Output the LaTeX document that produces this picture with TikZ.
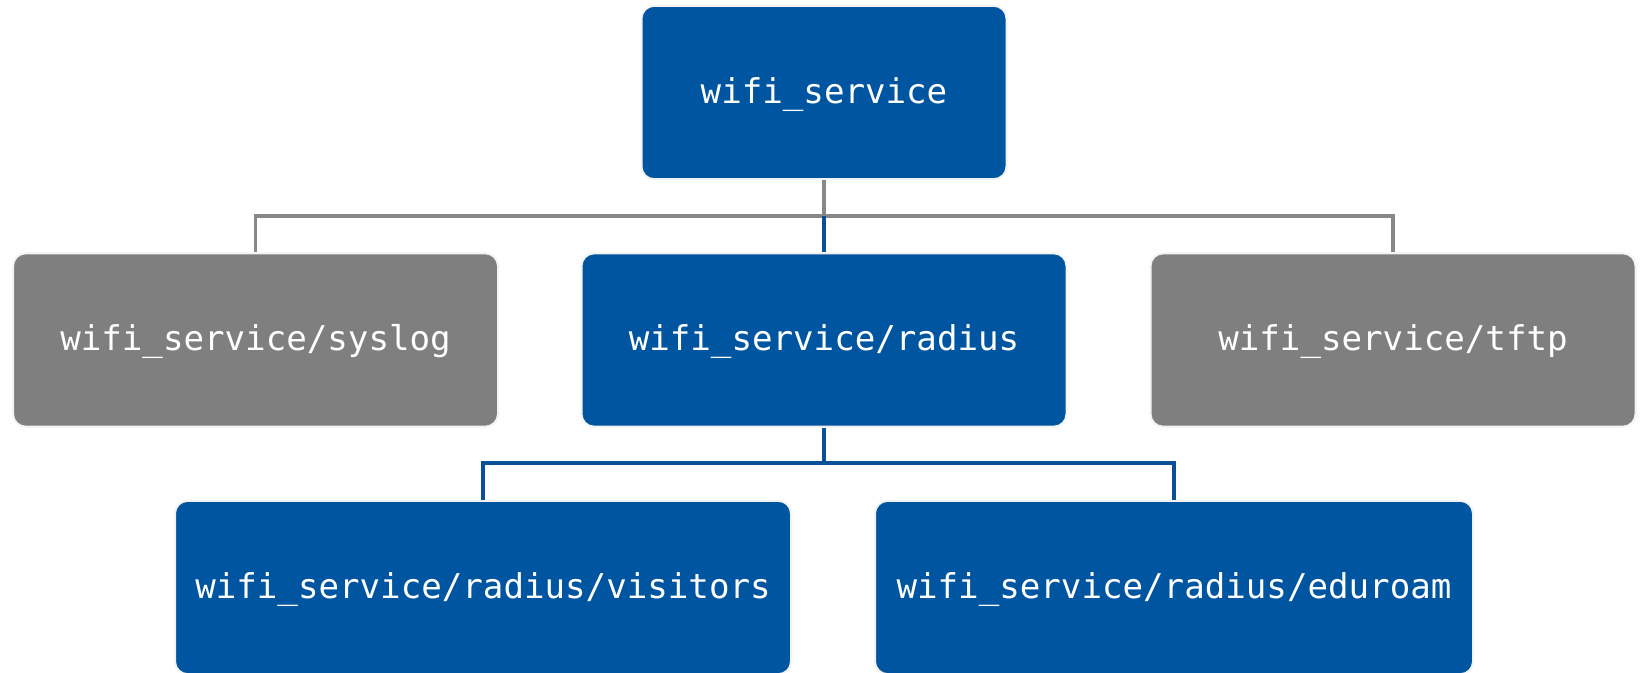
\documentclass[tikz,border=0pt]{standalone}
\usepackage{fontspec}
\newfontfamily\boxfont{DejaVu Sans Mono}
\definecolor{boxblue}{RGB}{0,85,160}
\definecolor{boxgray}{RGB}{127,127,127}
\definecolor{lineblue}{RGB}{8,80,152}
\definecolor{linegray}{RGB}{136,136,136}
\definecolor{rimcol}{RGB}{243,243,243}
\begin{document}
\begin{tikzpicture}[x=0.75pt,y=-0.75pt,
  tbox/.style={rectangle, rounded corners=9.5pt, draw=rimcol, line width=1.5pt,
    minimum height=130pt, inner sep=0pt, text=white, text height=21pt, text depth=5.2pt,
    font=\boxfont\fontsize{25.6}{30}\selectfont},
  bluebox/.style={tbox, fill=boxblue},
  graybox/.style={tbox, fill=boxgray},
  gline/.style={draw=linegray, line width=2.8pt},
  bline/.style={draw=lineblue, line width=2.8pt}]
\useasboundingbox (0,0) rectangle (1640,672);
\node[bluebox, minimum width=273.75pt] (top) at (824,92.5) {wifi\_service};
\node[graybox, minimum width=363.75pt] (syslog) at (255.5,340) {wifi\_service/syslog};
\node[bluebox, minimum width=363.75pt] (radius) at (824,340) {wifi\_service/radius};
\node[graybox, minimum width=363.75pt] (tftp) at (1393,340) {wifi\_service/tftp};
\node[bluebox, minimum width=462pt] (visitors) at (483,587.5) {wifi\_service/radius/visitors};
\node[bluebox, minimum width=448.5pt] (eduroam) at (1174,587.5) {wifi\_service/radius/eduroam};
\coordinate (j1) at (824,216);
\coordinate (j2) at (824,463);
\draw[gline] (top.south) -- (top.south |- j1);
\draw[gline] (syslog.north) -- (syslog.north |- j1) -- (tftp.north |- j1) -- (tftp.north);
\draw[bline] (top.south |- j1) -- (radius.north);
\draw[bline] (radius.south) -- (radius.south |- j2);
\draw[bline] (visitors.north) -- (visitors.north |- j2) -- (eduroam.north |- j2) -- (eduroam.north);
\end{tikzpicture}
\end{document}
